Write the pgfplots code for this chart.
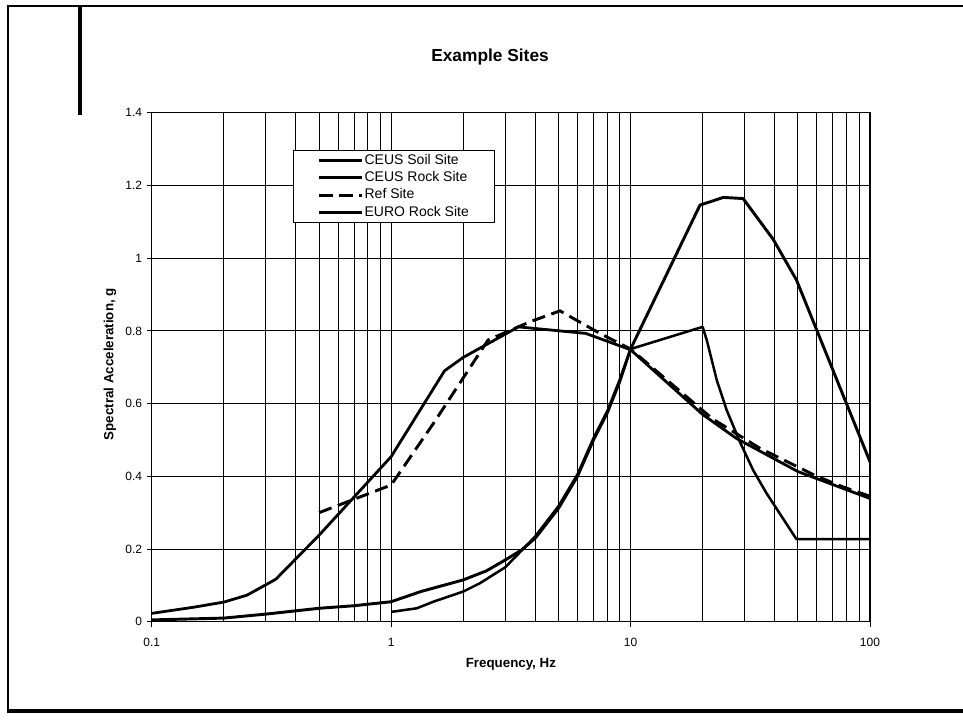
\documentclass[border=0pt]{standalone}
\usepackage{fontspec}
\setmainfont{Liberation Sans}
\usepackage{pgfplots}
\pgfplotsset{compat=1.18}

\begin{document}
\begin{tikzpicture}
% page frame, in pixel units of the 963x720 reference
\begin{scope}[x=0.75pt,y=0.75pt]
\path[use as bounding box] (0,0) rectangle (963,720);
\draw[line width=2pt] (8,714) -- (963,714);
\draw[line width=2pt] (8,715) -- (8,7);
\draw[line width=3pt] (7,8.5) -- (963,8.5);
\draw[line width=2.4pt] (80,715) -- (80,605);
\end{scope}

\begin{axis}[
    at={(113.8pt,73.7pt)}, anchor=south west,
    scale only axis,
    width=538.7pt, height=381.75pt,
    xmode=log,
    xmin=0.1, xmax=100,
    ymin=0, ymax=1.4,
    xtick={0.1,1,10,100},
    xticklabels={0.1,1,10,100},
    minor xtick={0.2,0.3,0.4,0.5,0.6,0.7,0.8,0.9,2,3,4,5,6,7,8,9,20,30,40,50,60,70,80,90},
    ytick={0,0.2,0.4,0.6,0.8,1,1.2,1.4},
    yticklabels={0,0.2,0.4,0.6,0.8,1,1.2,1.4},
    minor y tick num=0,
    grid=both,
    major grid style={black, line width=0.7pt},
    minor grid style={black, line width=0.7pt},
    axis line style={black, line width=0.8pt},
    tick pos=left,
    tick align=outside,
    major tick length=3.75pt,
    minor tick length=0pt,
    tick style={black, line width=0.7pt},
    ticklabel style={font=\fontsize{9}{10}\selectfont},
    xticklabel style={yshift=-5pt},
    title={Example Sites},
    title style={at={(axis description cs:0.471,1.0937)}, anchor=center,
                 font=\bfseries\fontsize{13}{15}\selectfont},
    xlabel={Frequency, Hz},
    ylabel={Spectral Acceleration, g},
    xlabel style={at={(axis description cs:0.5,-0.083)}, anchor=center,
                  font=\bfseries\fontsize{10}{12}\selectfont},
    ylabel style={at={(axis description cs:-0.058,0.506)}, anchor=center, rotate=0,
                  font=\bfseries\fontsize{10}{12}\selectfont},
    legend image code/.code={\draw[#1] (0pt,0pt) -- (32pt,0pt);},
    legend cell align=left,
    legend style={at={(axis description cs:0.197,0.9267)}, anchor=north west,
                  draw=black, line width=0.7pt, fill=white,
                  inner xsep=18pt, inner ysep=1.5pt,
                  row sep=1pt,
                  font=\fontsize{10.5}{12}\selectfont,
                  nodes={inner sep=1pt, text height=7.8pt, text depth=2.2pt}},
]

% CEUS Soil Site
\addplot[black, line width=2.1pt, line join=round] coordinates {
    (0.1,0.023) (0.15,0.040) (0.2,0.054) (0.25,0.073) (0.33,0.117)
    (0.5,0.238) (1,0.454) (1.67,0.690) (2,0.727) (3.4,0.811)
    (6.5,0.793) (10,0.748) (20,0.570) (27.7,0.504) (50,0.413) (100,0.339)
};
\addlegendentry{CEUS Soil Site}

% CEUS Rock Site
\addplot[black, line width=2.2pt, line join=round] coordinates {
    (0.1,0.005) (0.2,0.010) (0.3,0.021) (0.4,0.030) (0.5,0.037)
    (0.7,0.044) (1,0.055) (1.33,0.083) (2,0.115) (2.5,0.140)
    (3,0.170) (3.5,0.197) (4,0.230) (5,0.312) (6,0.400)
    (7,0.500) (8,0.575) (9,0.660) (10,0.750) (19.5,1.146)
    (24.4,1.167) (29.5,1.164) (39.4,1.052) (49.3,0.940) (100,0.440)
};
\addlegendentry{CEUS Rock Site}

% Ref Site
\addplot[black, line width=2.2pt, dash pattern=on 10pt off 5pt] coordinates {
    (0.5,0.300) (1,0.376) (1.5,0.545) (2.54,0.775) (3.8,0.825)
    (5.07,0.855) (7.45,0.793) (10,0.750) (22,0.558) (34.7,0.477)
    (60,0.400) (77,0.371) (100,0.345)
};
\addlegendentry{Ref Site}

% EURO Rock Site
\addplot[black, line width=1.9pt, line join=round] coordinates {
    (1,0.027) (1.28,0.037) (1.5,0.055) (2,0.083) (2.35,0.106)
    (3,0.150) (3.68,0.210) (4,0.235) (5,0.318) (6,0.405)
    (7,0.505) (8,0.580) (9,0.665) (10,0.750) (20,0.811)
    (20.8,0.775) (22.9,0.665) (25.2,0.582) (28.6,0.495) (32.5,0.417)
    (37,0.353) (49.3,0.227) (100,0.227)
};
\addlegendentry{EURO Rock Site}

\end{axis}
\end{tikzpicture}
\end{document}
